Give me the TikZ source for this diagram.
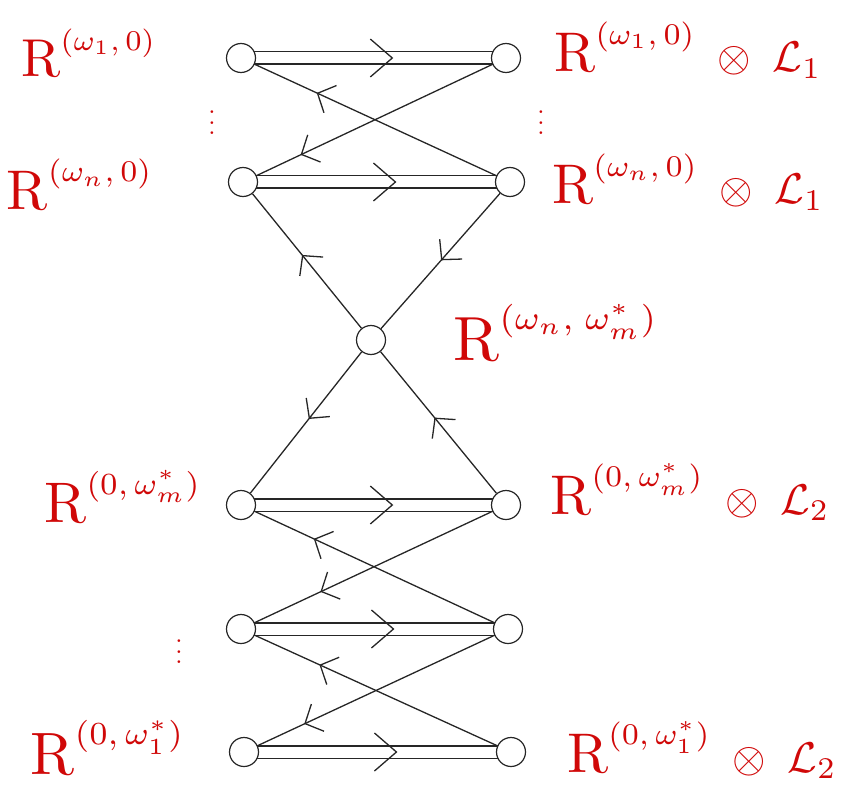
\documentclass[tikz,border=0pt]{standalone}
\usepackage{graphicx}
\usetikzlibrary{decorations.markings,backgrounds}
\definecolor{hand}{RGB}{208,8,8}
\newcommand{\biglab}[2][4.3]{\scalebox{#1}{$#2$}}
\newcommand{\RR}{\mbox{\scalebox{1.3}{R}}}
\newcommand{\bigdots}{\scalebox{2.6}{$\vdots$}}
\begin{document}
\begin{tikzpicture}[x=1pt,y=-1pt,
  vtx/.style={circle,draw=black!85,fill=white,minimum size=29pt,inner sep=0pt,line width=1.2pt},
  dbl/.style={draw=black!85,line width=1.2pt,double=white,double distance=11pt},
  harr/.style={postaction={decorate,decoration={markings,mark=at position 0.58 with {\draw[black!85,line width=1.3pt] (-22pt,19pt) -- (0pt,0pt) -- (-22pt,-19pt);}}}},
  diag/.style={draw=black!85,line width=1.3pt},
  tipat/.style={postaction={decorate,decoration={markings,mark=at position #1 with {\draw[black!85,line width=1.3pt] (-14pt,15pt) -- (0pt,0pt) -- (-14pt,-15pt);}}}},
  lab/.style={text=hand,inner sep=0pt},
  dots/.style={text=hand,inner sep=0pt}
]
\useasboundingbox (0,0) rectangle (842,786);
% vertices
\node[vtx] (L1) at (241,58) {};
\node[vtx] (R1) at (506,58) {};
\node[vtx] (L2) at (243,182) {};
\node[vtx] (R2) at (510,182) {};
\node[vtx] (M)  at (371,340) {};
\node[vtx] (L3) at (241,505) {};
\node[vtx] (R3) at (506,505) {};
\node[vtx] (L4) at (241,629) {};
\node[vtx] (R4) at (508,629) {};
\node[vtx] (L5) at (244,752) {};
\node[vtx] (R5) at (511,752) {};
\begin{pgfonlayer}{background}
% double horizontal connectors
\foreach \a/\b in {L1/R1,L2/R2,L3/R3,L4/R4,L5/R5}{
  \draw[dbl] (\a.center) -- (\b.center);
  \path[harr] (\a) -- (\b);
}
% crossings and triangles
\path[diag,tipat=0.74] (R2) -- (L1);
\path[diag,tipat=0.81] (R1) -- (L2);
\path[diag,tipat=0.54] (M) -- (L2);
\path[diag,tipat=0.49] (R2) -- (M);
\path[diag,tipat=0.47] (M) -- (L3);
\path[diag,tipat=0.53] (R3) -- (M);
\path[diag,tipat=0.75] (R4) -- (L3);
\path[diag,tipat=0.72] (R3) -- (L4);
\path[diag,tipat=0.73] (R5) -- (L4);
\path[diag,tipat=0.80] (R4) -- (L5);
\end{pgfonlayer}
% labels
\node[lab] (tL1) at (89,53) {\biglab[4.1]{\RR^{(\omega_1,\,0)}}};
\node[lab] (tL2) at (80,185) {\biglab[4.3]{\RR^{(\omega_n,\,0)}}};
\node[lab] (tR1) at (688,50) {\biglab{\RR^{(\omega_1,\,0)}\;\otimes\;\mathcal{L}_1}};
\node[lab] (tR2) at (688,182) {\biglab{\RR^{(\omega_n,\,0)}\;\otimes\;\mathcal{L}_1}};
\node[lab] (tM) at (556,333) {\biglab[4.8]{\RR^{(\omega_n,\;\omega_m^{*})}}};
\node[lab] (tL3) at (123,497) {\biglab[4.4]{\RR^{(0,\,\omega_m^{*})}}};
\node[lab] (tR3) at (690,492) {\biglab{\RR^{(0,\,\omega_m^{*})}\;\otimes\;\mathcal{L}_2}};
\node[lab] (tL5) at (108,748) {\biglab[4.6]{\RR^{(0,\,\omega_1^{*})}}};
\node[lab] (tR5) at (702,750) {\biglab{\RR^{(0,\,\omega_1^{*})}\;\otimes\;\mathcal{L}_2}};
\node[dots] (d1) at (212,115) {\bigdots};
\node[dots] (d2) at (541,115) {\bigdots};
\node[dots] (d3) at (179,644) {\bigdots};
\end{tikzpicture}
\end{document}
